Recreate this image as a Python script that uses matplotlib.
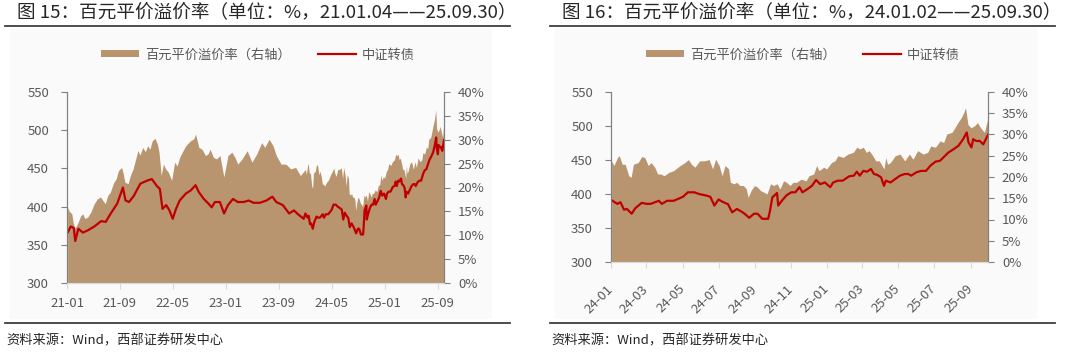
import pandas as pd
import matplotlib
matplotlib.use("Agg")
import matplotlib.pyplot as plt
from matplotlib.lines import Line2D
from matplotlib.patches import Patch, Rectangle

plt.rcParams['font.family'] = ['Noto Sans CJK SC', 'DejaVu Sans']

# 中证转债指数（左轴）
cb_dates = [
    '2021-01-04', '2021-01-18', '2021-02-01', '2021-02-08', '2021-02-22', '2021-03-15',
    '2021-04-07', '2021-05-07', '2021-06-07', '2021-06-28', '2021-07-21', '2021-08-20',
    '2021-09-15', '2021-09-27', '2021-10-13', '2021-11-04', '2021-12-04', '2022-01-04',
    '2022-01-26', '2022-02-18', '2022-03-04', '2022-03-16', '2022-04-02', '2022-04-17',
    '2022-05-02', '2022-05-17', '2022-06-03', '2022-07-01', '2022-07-23', '2022-08-15',
    '2022-08-30', '2022-09-22', '2022-10-13', '2022-10-28', '2022-11-12', '2022-12-05',
    '2022-12-24', '2023-01-11', '2023-02-03', '2023-02-25', '2023-03-24', '2023-04-16',
    '2023-05-08', '2023-06-07', '2023-07-07', '2023-08-03', '2023-08-21', '2023-09-20',
    '2023-10-19', '2023-11-10', '2023-12-03', '2023-12-25',
    '2024-01-02', '2024-01-07', '2024-01-12', '2024-01-17', '2024-01-23', '2024-01-28',
    '2024-02-05', '2024-02-11', '2024-02-22', '2024-03-01', '2024-03-08', '2024-03-22',
    '2024-03-27', '2024-04-05', '2024-04-16', '2024-04-24', '2024-05-02', '2024-05-10',
    '2024-05-21', '2024-05-29', '2024-06-09', '2024-06-17', '2024-06-24', '2024-07-01',
    '2024-07-09', '2024-07-17', '2024-07-24', '2024-08-01', '2024-08-09', '2024-08-14',
    '2024-08-22', '2024-08-30', '2024-09-05', '2024-09-13', '2024-09-23', '2024-09-26',
    '2024-09-30', '2024-10-08', '2024-10-10', '2024-10-16', '2024-10-24', '2024-11-01',
    '2024-11-08', '2024-11-15', '2024-11-20', '2024-11-28', '2024-12-06', '2024-12-13',
    '2024-12-20', '2024-12-28', '2025-01-06', '2025-01-11', '2025-01-19', '2025-01-27',
    '2025-02-07', '2025-02-15', '2025-02-20', '2025-02-25', '2025-03-03', '2025-03-09',
    '2025-03-16', '2025-03-21', '2025-03-27', '2025-04-02', '2025-04-07', '2025-04-10',
    '2025-04-18', '2025-04-26', '2025-05-04', '2025-05-12', '2025-05-18', '2025-05-23',
    '2025-06-01', '2025-06-09', '2025-06-17', '2025-06-25', '2025-07-03', '2025-07-11',
    '2025-07-19', '2025-07-25', '2025-08-03', '2025-08-11', '2025-08-19', '2025-08-25',
    '2025-08-28', '2025-09-02', '2025-09-05', '2025-09-10', '2025-09-16', '2025-09-22',
    '2025-09-30',
]
cb_index = [
    366, 374, 372, 355, 371, 366,
    369, 374, 381, 380, 391, 404,
    425, 408, 406, 414, 430, 434,
    436, 427, 423, 397, 402, 395,
    384, 397, 408, 417, 421, 428,
    419, 410, 404, 399, 406, 406,
    391, 402, 410, 406, 406, 408,
    405, 405, 408, 413, 406, 402,
    391, 395, 389, 384,
    391, 388, 385.5, 388, 377, 378,
    371, 379, 387, 385.5, 385.5, 390,
    385.5, 390, 390, 393, 396, 402.5,
    402.5, 400, 398, 396, 383, 392,
    388, 385, 373, 378, 374, 371,
    365, 371, 371, 363.5, 363.5, 375,
    395, 401.5, 383, 390, 398, 402.5,
    402.5, 410, 402.5, 407, 412, 420.6,
    414.5, 417, 410, 417, 419.6, 419.6,
    426, 427, 432.8, 427, 434, 432.8,
    436.7, 429.4, 428, 424.5, 412, 419.6,
    417, 422, 427, 429.4, 429.4, 427,
    432, 434, 434, 442, 447.5, 449,
    456, 461, 466, 471, 480.7, 490.5,
    476, 468.5, 480.7, 478, 478, 473,
    487,
]

# 百元平价溢价率（右轴，%）
prem_dates = [
    '2021-01-04', '2021-01-11', '2021-01-23', '2021-01-30', '2021-02-07', '2021-02-14',
    '2021-02-22', '2021-03-04', '2021-03-14', '2021-03-24', '2021-04-06', '2021-04-21',
    '2021-05-05', '2021-05-20', '2021-06-04', '2021-06-16', '2021-06-26', '2021-07-07',
    '2021-07-19', '2021-08-03', '2021-08-15', '2021-08-25', '2021-09-09', '2021-09-17',
    '2021-09-24', '2021-10-09', '2021-10-19', '2021-11-01', '2021-11-13', '2021-11-23',
    '2021-12-03', '2021-12-15', '2021-12-27', '2022-01-07', '2022-01-17', '2022-01-28',
    '2022-02-10', '2022-02-21', '2022-02-28', '2022-03-10', '2022-03-20', '2022-04-01',
    '2022-04-12', '2022-04-27', '2022-05-11', '2022-05-22', '2022-06-03', '2022-06-16',
    '2022-07-01', '2022-07-23', '2022-08-07', '2022-08-15', '2022-08-30', '2022-09-14',
    '2022-09-29', '2022-10-11', '2022-10-21', '2022-11-05', '2022-11-20', '2022-12-05',
    '2022-12-23', '2023-01-11', '2023-01-29', '2023-02-13', '2023-02-25', '2023-03-17',
    '2023-04-09', '2023-04-21', '2023-05-01', '2023-05-23', '2023-06-15', '2023-06-29',
    '2023-07-19', '2023-08-06', '2023-08-21', '2023-09-12', '2023-10-04', '2023-10-26',
    '2023-11-18', '2023-12-10',
    '2024-01-02', '2024-01-06', '2024-01-12', '2024-01-15', '2024-01-20', '2024-01-25',
    '2024-01-31', '2024-02-04', '2024-02-08', '2024-02-16', '2024-02-22', '2024-02-27',
    '2024-03-04', '2024-03-09', '2024-03-15', '2024-03-20', '2024-03-25', '2024-03-31',
    '2024-04-08', '2024-04-16', '2024-04-27', '2024-05-05', '2024-05-11', '2024-05-16',
    '2024-05-22', '2024-05-30', '2024-06-07', '2024-06-15', '2024-06-21', '2024-06-26',
    '2024-07-02', '2024-07-07', '2024-07-12', '2024-07-18', '2024-07-21', '2024-07-27',
    '2024-08-01', '2024-08-06', '2024-08-12', '2024-08-17', '2024-08-20', '2024-08-25',
    '2024-08-31', '2024-09-05', '2024-09-10', '2024-09-16', '2024-09-21', '2024-09-27',
    '2024-10-02', '2024-10-08', '2024-10-13', '2024-10-19', '2024-10-24', '2024-10-30',
    '2024-11-04', '2024-11-10', '2024-11-18', '2024-11-26', '2024-12-01', '2024-12-09',
    '2024-12-14', '2024-12-18', '2024-12-26', '2024-12-31', '2025-01-08', '2025-01-14',
    '2025-01-19', '2025-01-28', '2025-02-05', '2025-02-14', '2025-02-20', '2025-02-25',
    '2025-03-03', '2025-03-08', '2025-03-13', '2025-03-19', '2025-03-24', '2025-03-30',
    '2025-04-07', '2025-04-10', '2025-04-13', '2025-04-18', '2025-04-26', '2025-05-04',
    '2025-05-12', '2025-05-20', '2025-05-26', '2025-06-03', '2025-06-12', '2025-06-20',
    '2025-06-25', '2025-07-03', '2025-07-11', '2025-07-17', '2025-07-22', '2025-07-31',
    '2025-08-05', '2025-08-10', '2025-08-16', '2025-08-20', '2025-08-23', '2025-08-27',
    '2025-09-01', '2025-09-07', '2025-09-12', '2025-09-18', '2025-09-24', '2025-09-30',
]
premium = [
    15.9, 15.0, 14.5, 12.5, 11.5, 12.0,
    12.8, 14.0, 14.5, 13.5, 13.8, 14.9,
    16.5, 17.6, 18.0, 17.2, 16.6, 18.3,
    19.0, 21.0, 21.8, 23.5, 24.2, 22.8,
    21.1, 20.8, 22.5, 23.9, 26.0, 27.7,
    26.8, 28.4, 27.5, 28.75, 28.0, 29.8,
    30.3, 29.0, 27.4, 22.5, 24.9, 23.8,
    23.2, 21.5, 25.3, 24.5, 26.3, 27.5,
    28.75, 29.8, 30.2, 31.2, 28.4, 28.0,
    26.7, 27.0, 28.0, 26.3, 26.0, 26.7,
    22.2, 26.7, 27.4, 26.2, 24.9, 26.0,
    27.7, 26.4, 25.3, 27.0, 29.4, 28.4,
    30.1, 28.75, 26.7, 24.9, 24.9, 23.9,
    24.2, 22.5,
    23.8, 22.7, 24.6, 25.0, 23.0, 23.0,
    20.3, 19.9, 23.0, 23.4, 24.8, 24.6,
    22.7, 23.4, 22.3, 20.7, 20.7, 20.3,
    21.1, 21.5, 22.7, 23.4, 24.1, 23.0,
    22.3, 23.8, 23.8, 24.1, 21.9, 24.2,
    22.7, 20.3, 22.7, 21.9, 18.75, 18.4,
    18.75, 18.0, 18.0, 17.2, 15.2, 16.8,
    18.0, 17.6, 16.8, 16.4, 16.0, 18.4,
    18.0, 18.4, 17.2, 19.1, 18.75, 18.0,
    18.75, 18.75, 19.5, 19.1, 20.3, 20.7,
    22.7, 21.5, 22.3, 21.9, 23.4, 23.8,
    25.0, 24.6, 25.4, 25.8, 27.0, 26.6,
    27.0, 25.8, 26.2, 25.0, 23.8, 23.8,
    21.9, 24.6, 23.0, 23.4, 25.0, 25.4,
    23.8, 25.4, 24.2, 26.2, 25.4, 25.8,
    27.3, 27.0, 28.5, 28.1, 30.1, 30.5,
    31.6, 32.8, 34.0, 35.2, 36.3, 32.4,
    31.6, 32.0, 32.8, 31.5, 30.5, 34.0,
]

left_ticks = ['2021-01', '2021-09', '2022-05', '2023-01', '2023-09', '2024-05', '2025-01', '2025-09']
right_ticks = ['2024-01', '2024-03', '2024-05', '2024-07', '2024-09', '2024-11',
               '2025-01', '2025-03', '2025-05', '2025-07', '2025-09']

cb = pd.Series(cb_index, index=pd.to_datetime(cb_dates))
prem = pd.Series(premium, index=pd.to_datetime(prem_dates))

FILL = '#B9956F'
RED = '#C00000'
TXT = '#595959'
W, H = 1080, 352

fig = plt.figure(figsize=(W / 100, H / 100), dpi=100)


def box(x0, y0, x1, y1):
    # pixel box (top-left origin) -> figure rect
    return [x0 / W, 1 - y1 / H, (x1 - x0) / W, (y1 - y0) / H]


def hline(x0, x1, y, color='#3F3F3F', lw=1.3):
    fig.add_artist(Line2D([x0 / W, x1 / W], [1 - y / H, 1 - y / H], color=color, lw=lw,
                          transform=fig.transFigure))


def panel(x_left, title, ax_box, start, ticks, rotate):
    # fond gris clair + titre + filets
    bx = box(x_left + 10, 28, x_left + 492, 319)
    fig.add_artist(Rectangle((bx[0], bx[1]), bx[2], bx[3], transform=fig.transFigure,
                             facecolor='#FAFAFA', edgecolor='none', zorder=-5))
    fig.text((x_left + 17) / W, 1 - 12 / H, title, fontsize=13.4, color='#262626', va='center')
    hline(x_left + 5, x_left + 510, 25.5)
    hline(x_left + 5, x_left + 510, 323)
    fig.text((x_left + 6) / W, 1 - 341 / H, '资料来源：Wind，西部证券研发中心',
             fontsize=9.5, color='#262626', va='center')

    ax = fig.add_axes(box(*ax_box))
    ax2 = ax.twinx()
    ax.set_zorder(ax2.get_zorder() + 1)
    ax.patch.set_visible(False)
    ax2.patch.set_visible(False)

    p = prem[prem.index >= start]
    c = cb[cb.index >= start]
    ax2.fill_between(p.index, p.values, 0, color=FILL, lw=0)
    ax.plot(c.index, c.values, color=RED, lw=1.6)

    ax.set_xlim(pd.Timestamp(start[:7] + '-01'), pd.Timestamp('2025-09-30'))
    ax.set_ylim(300, 550)
    ax.set_yticks(range(300, 551, 50))
    ax2.set_ylim(0, 40)
    ax2.set_yticks(range(0, 41, 5))
    ax2.set_yticklabels(['{}%'.format(v) for v in range(0, 41, 5)])

    tk = pd.to_datetime(ticks)
    ax.set_xticks(tk)
    ax.set_xticklabels([d.strftime('%y-%m') for d in tk])

    for a in (ax, ax2):
        a.spines['top'].set_visible(False)
        a.spines['bottom'].set_color('#D9D9D9')
        a.spines['left'].set_color('#808080')
        a.spines['right'].set_color('#808080')
        a.spines['left'].set_linewidth(0.8)
        a.spines['right'].set_linewidth(0.8)
    ax.tick_params(axis='y', length=4, color='#808080', labelsize=9.5, labelcolor=TXT, pad=9)
    ax2.tick_params(axis='y', length=4, color='#808080', labelsize=9.5, labelcolor=TXT, pad=6)
    if rotate:
        ax.tick_params(axis='x', length=4, color='#D9D9D9', labelsize=9.5, labelcolor=TXT, pad=14)
        for lb in ax.get_xticklabels():
            lb.set_rotation(45)
            lb.set_ha('right')
            lb.set_va('center')
            lb.set_rotation_mode('anchor')
    else:
        ax.tick_params(axis='x', length=4, color='#D9D9D9', labelsize=9.5, labelcolor=TXT, pad=6)

    handles = [Patch(facecolor=FILL, edgecolor='none'), Line2D([], [], color=RED, lw=1.6)]
    leg = fig.legend(handles, ['百元平价溢价率（右轴）', '中证转债'], ncol=2, frameon=False,
                     loc='center', bbox_to_anchor=((x_left + 258) / W, 1 - 55 / H),
                     fontsize=9.5, handlelength=2.9, handleheight=0.45, handletextpad=0.4,
                     columnspacing=2.1)
    for t in leg.get_texts():
        t.set_color(TXT)


panel(0, '图 15：百元平价溢价率（单位：%，21.01.04——25.09.30）',
      (67, 92, 444, 283), '2021-01-04', left_ticks, False)
panel(545, '图 16：百元平价溢价率（单位：%，24.01.02——25.09.30）',
      (611, 92, 988, 262), '2024-01-02', right_ticks, True)

fig.savefig('out.png', dpi=100)
